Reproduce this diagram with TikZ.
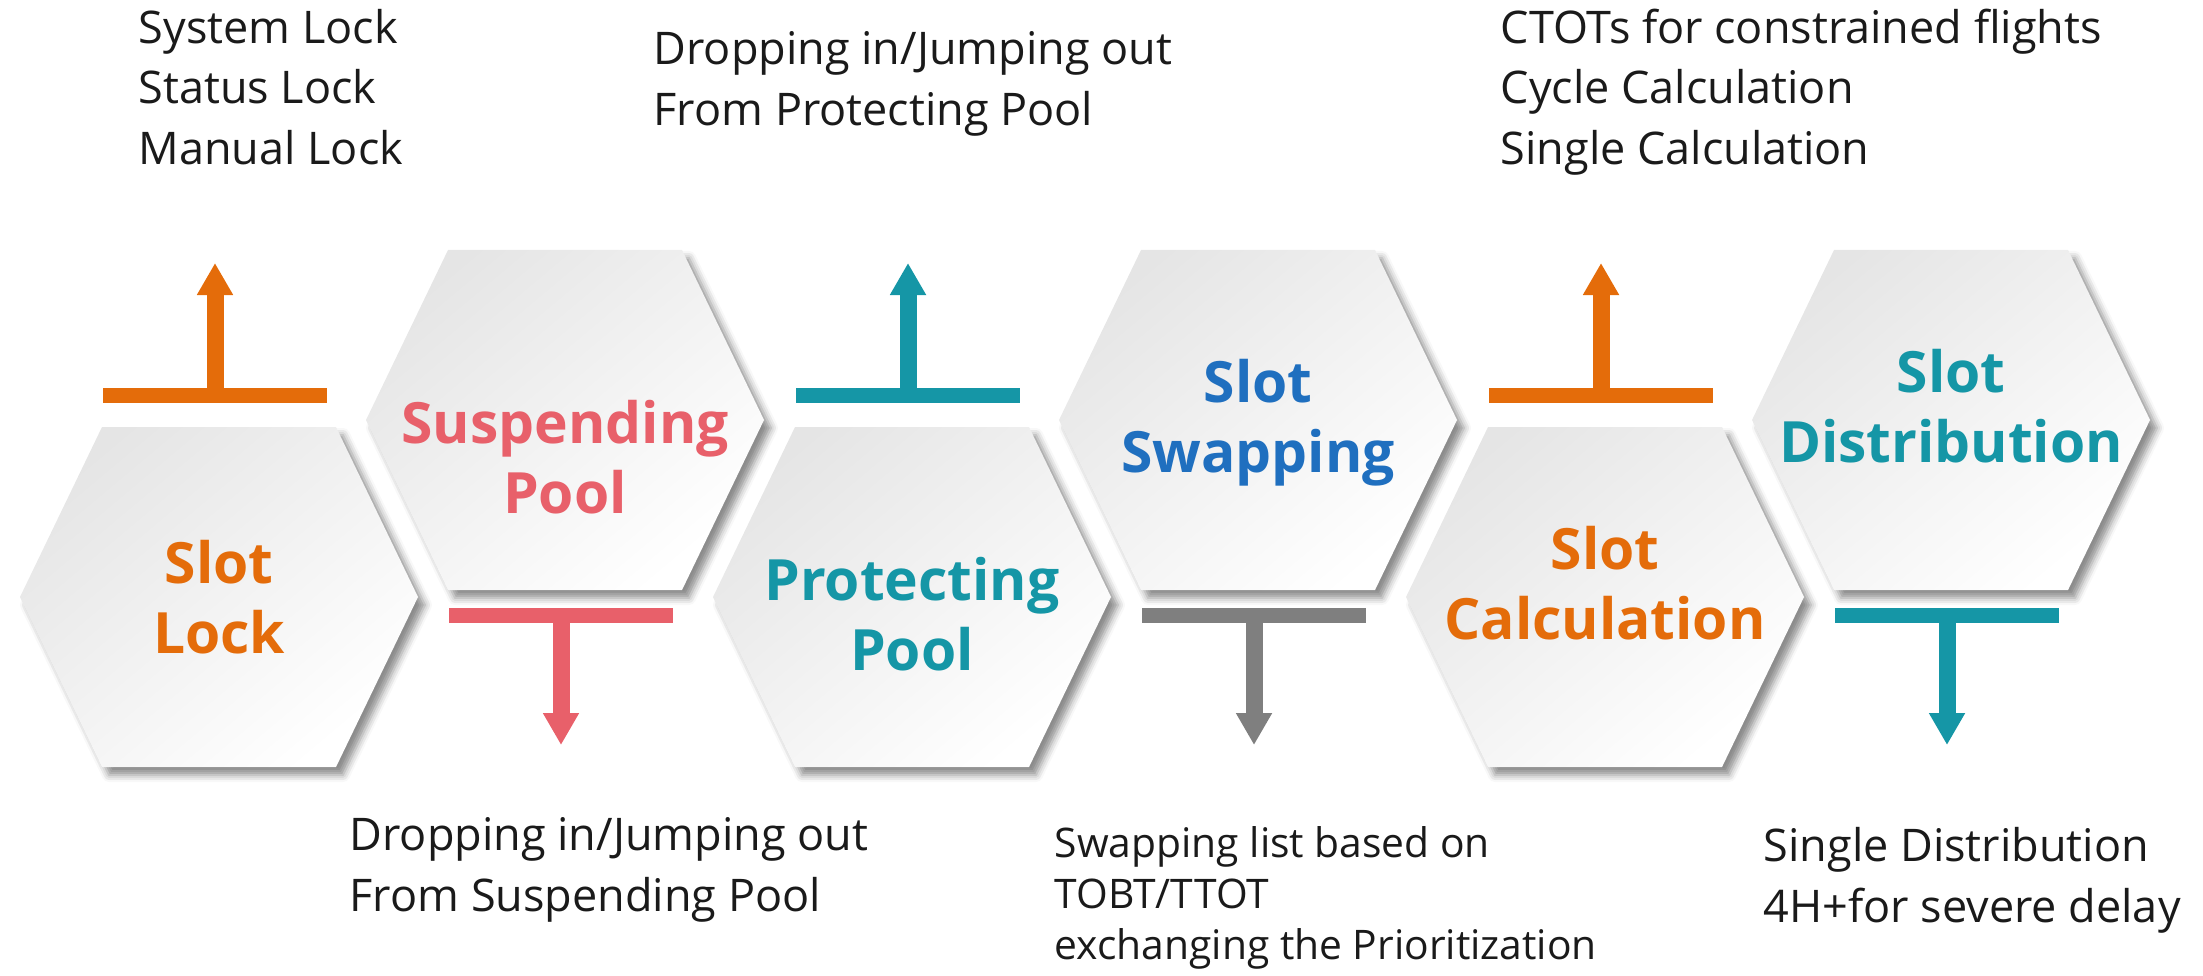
\documentclass[tikz,border=0pt]{standalone}
\usepackage{fontspec}
\setmainfont{Open Sans}
\usetikzlibrary{calc,arrows.meta,shadows.blur}

\definecolor{slotorange}{HTML}{E46C0A}
\definecolor{poolpink}{HTML}{E8606A}
\definecolor{poolteal}{HTML}{1596A6}
\definecolor{swapblue}{HTML}{1F6FBF}
\definecolor{swapgray}{HTML}{7F7F7F}
\definecolor{notetext}{HTML}{1A1A1A}

\tikzset{
  hexcell/.style={top color=black!10, bottom color=white, shading angle=40,
    blur shadow={shadow xshift=0.07cm, shadow yshift=-0.08cm,
      shadow blur radius=0.07cm, shadow opacity=45}},
  hexlabel/.style={align=center, inner sep=0pt,
    font=\fontsize{16.2}{19.8}\selectfont\bfseries},
  note/.style={align=left, anchor=west, inner sep=0pt, text=notetext,
    font=\fontsize{12.8}{17.3}\selectfont},
  tbar/.style={line width=0.15cm},
  tstem/.style={line width=0.17cm, -{Triangle[width=0.34cm,length=0.32cm]}}
}

\begin{document}
\begin{tikzpicture}
  \useasboundingbox (0,0) rectangle (22.03,9.75);
  \def\hexw{1.99}
  \def\hext{1.17}
  \def\hexh{1.70}
  \def\barlen{1.12}

  % honeycomb cells
  \foreach \n/\x/\y in {lock/2.19/3.78, susp/5.65/5.55, prot/9.12/3.78,
                        swap/12.58/5.55, calc/16.05/3.78, dist/19.51/5.55} {
    \coordinate (\n) at (\x,\y);
    \shade[hexcell] (\x-\hexw,\y) -- (\x-\hext,\y+\hexh) -- (\x+\hext,\y+\hexh)
      -- (\x+\hexw,\y) -- (\x+\hext,\y-\hexh) -- (\x-\hext,\y-\hexh) -- cycle;
  }

  \node[hexlabel, text=slotorange] (locklbl) at (lock) {Slot\\Lock};
  \node[hexlabel, text=poolpink] (susplbl) at ($(susp)+(0,-0.37)$) {Suspending\\Pool};
  \node[hexlabel, text=poolteal] (protlbl) at ($(prot)+(0,-0.17)$) {Protecting\\Pool};
  \node[hexlabel, text=swapblue] (swaplbl) at ($(swap)+(0,-0.03)$) {Slot\\Swapping};
  \node[hexlabel, text=slotorange] (calclbl) at ($(calc)+(0,0.14)$) {Slot\\Calculation};
  \node[hexlabel, text=poolteal] (distlbl) at ($(dist)+(0,0.14)$) {Slot\\Distribution};

  % T arrows, up for the lower cells, down for the upper ones
  \foreach \n/\c in {lock/slotorange, prot/poolteal, calc/slotorange} {
    \coordinate (\n bar) at ($(\n)+(-0.04,2.02)$);
    \coordinate (\n tip) at ($(\n)+(-0.04,3.34)$);
    \draw[tbar, \c] ($(\n bar)-(\barlen,0)$) -- ($(\n bar)+(\barlen,0)$);
    \draw[tstem, \c] (\n bar) -- (\n tip);
  }
  \foreach \n/\c in {susp/poolpink, swap/swapgray, dist/poolteal} {
    \coordinate (\n bar) at ($(\n)+(-0.04,-1.95)$);
    \coordinate (\n tip) at ($(\n)+(-0.04,-3.25)$);
    \draw[tbar, \c] ($(\n bar)-(\barlen,0)$) -- ($(\n bar)+(\barlen,0)$);
    \draw[tstem, \c] (\n bar) -- (\n tip);
  }

  % notes
  \node[note] (locknote) at (1.38,8.88) {System Lock\\Status Lock\\Manual Lock};
  \node[note] (protnote) at (6.53,8.91) {Dropping in/Jumping out\\From Protecting Pool};
  \node[note] (calcnote) at (15.00,8.83) {CTOTs for constrained flights\\Cycle Calculation\\Single Calculation};
  \node[note] (suspnote) at (3.49,1.05) {Dropping in/Jumping out\\From Suspending Pool};
  \node[note, font=\fontsize{11.6}{14.5}\selectfont] (swapnote) at (10.54,0.77)
    {Swapping list based on\\TOBT/TTOT\\exchanging the Prioritization};
  \node[note] (distnote) at (17.63,0.95) {Single Distribution\\4H+for severe delay};
\end{tikzpicture}
\end{document}
